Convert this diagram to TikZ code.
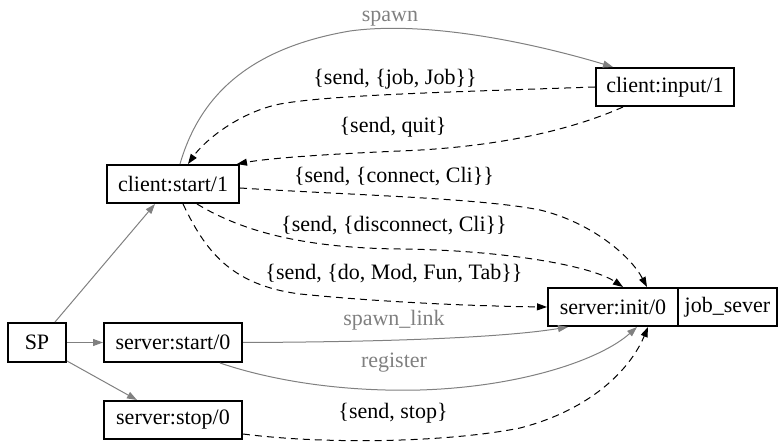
\documentclass[tikz,border=0pt]{standalone}
\usepackage{fontspec}
\setmainfont{Liberation Serif}
\usetikzlibrary{arrows.meta}
\definecolor{edgegray}{HTML}{808080}
\begin{document}
\begin{tikzpicture}[x=1pt,y=-1pt,
  every node/.style={font=\fontsize{22pt}{26pt}\selectfont},
  box/.style={draw=black,line width=2pt,inner sep=0pt,minimum height=38pt},
  recpart/.style={inner sep=0pt,outer sep=0pt,minimum height=38pt},
  spawnedge/.style={draw=edgegray,line width=1pt,-{Triangle[length=10pt,width=7pt]}},
  msgedge/.style={draw=black,line width=1pt,dash pattern=on 7pt off 5pt,-{Triangle[length=10pt,width=7pt]}},
  graylbl/.style={text=edgegray,inner sep=0pt,anchor=base},
  msglbl/.style={text=black,inner sep=0pt,anchor=base}]
\useasboundingbox (0,0) rectangle (779,446);
% nodes
\node[box,minimum width=58pt,minimum height=39pt] (sp) at (37,342.5) {SP};
\node[box,minimum width=132pt] (cstart) at (173,184) {client:start/1};
\node[box,minimum width=138pt,minimum height=39pt] (sstart) at (173,342.5) {server:start/0};
\node[box,minimum width=138pt] (sstop) at (173,420) {server:stop/0};
\node[box,minimum width=138pt] (cinput) at (665,87) {client:input/1};
\node[recpart,minimum width=130pt] (sinit) at (613,307) {server:init/0};
\node[recpart,minimum width=99pt,anchor=west] (jobsever) at (sinit.east) {job\_sever};
\draw[line width=2pt] (sinit.north west) rectangle (jobsever.south east);
\draw[line width=1.3pt] (sinit.north east) -- (sinit.south east);
% SP edges
\draw[spawnedge] ([xshift=18pt]sp.north) -- ([xshift=-18pt]cstart.south);
\draw[spawnedge] (sp.east) -- (sstart.west);
\draw[spawnedge] ([yshift=2pt]sp.south east) -- ([xshift=-36pt]sstop.north);
% spawn
\draw[spawnedge] ([xshift=7pt]cstart.north) .. controls (200,95) and (250,48) .. (350,31)
  .. controls (430,20) and (540,45) .. ([xshift=-52pt]cinput.north);
% job
\draw[msgedge] (cinput.west) .. controls (450,92) and (330,95) .. (280,104)
  .. controls (240,112) and (205,140) .. ([xshift=15pt]cstart.north);
% quit
\draw[msgedge] ([xshift=-42pt]cinput.south) .. controls (560,135) and (480,148) .. (400,151)
  .. controls (330,154) and (270,158) .. ([xshift=-3pt]cstart.north east);
% connect
\draw[msgedge] ([yshift=-4pt]cstart.east) .. controls (350,195) and (480,198) .. (540,210)
  .. controls (590,222) and (630,255) .. ([xshift=34pt,yshift=1pt]sinit.north);
% disconnect
\draw[msgedge] ([xshift=24pt]cstart.south) .. controls (240,230) and (300,248) .. (400,249)
  .. controls (500,250) and (590,265) .. ([xshift=10pt,yshift=1pt]sinit.north);
% do
\draw[msgedge] ([xshift=10pt]cstart.south) .. controls (205,250) and (230,285) .. (300,294)
  .. controls (380,302) and (470,306) .. ([xshift=-1pt]sinit.west);
% spawn_link
\draw[spawnedge] (sstart.east) .. controls (380,342) and (500,338) .. ([xshift=-45pt,yshift=-1pt]sinit.south);
% register
\draw[spawnedge] ([xshift=47pt]sstart.south) .. controls (270,380) and (340,392) .. (420,390)
  .. controls (520,387) and (600,360) .. ([xshift=24pt,yshift=-1pt]sinit.south);
% stop
\draw[msgedge] ([yshift=-14pt]sstop.east) .. controls (330,445) and (450,442) .. (520,428)
  .. controls (590,410) and (630,370) .. ([xshift=35pt,yshift=-1pt]sinit.south);
% labels
\node[graylbl] (lspawn) at (390,22) {spawn};
\node[msglbl] (ljob) at (395,85) {\{send, \{job, Job\}\}};
\node[msglbl] (lquit) at (393,133) {\{send, quit\}};
\node[msglbl] (lconnect) at (394,183) {\{send, \{connect, Cli\}\}};
\node[msglbl] (ldisconnect) at (394,232) {\{send, \{disconnect, Cli\}\}};
\node[msglbl] (ldo) at (394,280) {\{send, \{do, Mod, Fun, Tab\}\}};
\node[graylbl] (lspawnlink) at (394,325) {spawn\_link};
\node[graylbl] (lregister) at (394,367) {register};
\node[msglbl] (lstop) at (393,418) {\{send, stop\}};
\end{tikzpicture}
\end{document}
